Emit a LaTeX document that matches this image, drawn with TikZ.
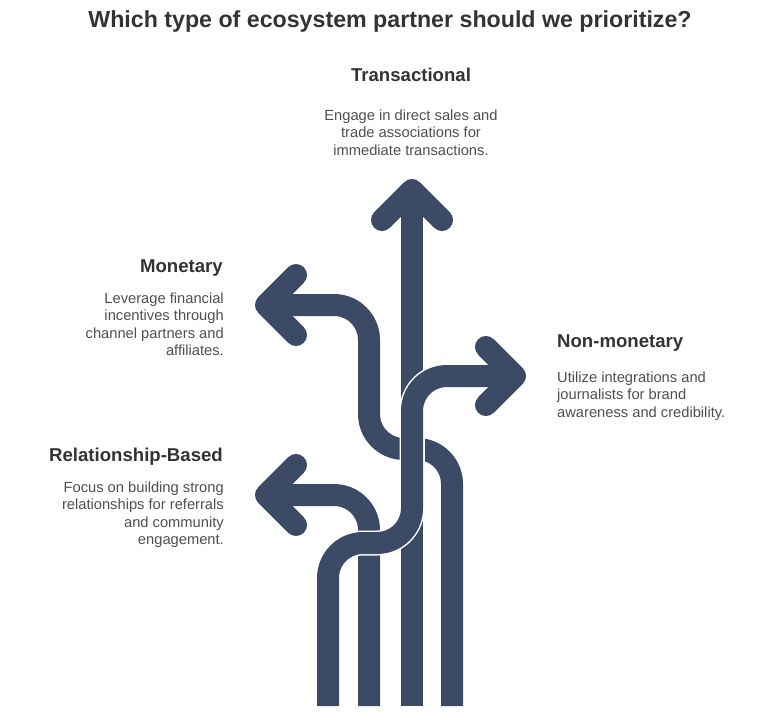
\documentclass[tikz,border=0pt]{standalone}
\usepackage{fontspec}
\setmainfont{Liberation Sans}
\definecolor{laneblue}{HTML}{3B4B66}
\definecolor{headgray}{HTML}{333333}
\definecolor{bodygray}{HTML}{4F4F4F}
\begin{document}
\begin{tikzpicture}
	[x=1pt,y=-1pt,
	lane/.style={line width=22pt,draw=laneblue,rounded corners=35pt,line join=round},
	laneedge/.style={line width=25pt,draw=white,rounded corners=35pt,line join=round},
	arrowhead/.style={line width=22pt,draw=laneblue,line cap=round,line join=round},
	titletxt/.style={font=\fontsize{23.2}{28}\selectfont\bfseries,text=headgray,inner sep=0pt,anchor=base},
	heading/.style={font=\fontsize{18.6}{22}\selectfont\bfseries,text=headgray,inner sep=0pt,anchor=base},
	blurb/.style={font=\fontsize{14.7}{17.5}\selectfont,text=bodygray,inner sep=0pt},]
	\useasboundingbox (0,0) rectangle (780,718);
	% texts
	\node[titletxt,name=title] at (390,27) {Which type of ecosystem partner should we prioritize?};
	\node[heading,name=trans-head] at (411,81) {Transactional};
	\node[blurb,align=center,anchor=north,name=trans-text] at (411,109.5)
	{Engage in direct sales and\\trade associations for\\immediate transactions.};
	\node[heading,anchor=base east,name=mon-head] at (223,272) {Monetary};
	\node[blurb,align=right,anchor=north east,name=mon-text] at (224,292.5)
	{Leverage financial\\incentives through\\channel partners and\\affiliates.};
	\node[heading,anchor=base west,name=nonmon-head] at (557,347) {Non-monetary};
	\node[blurb,align=left,anchor=north west,name=nonmon-text] at (557,371.5)
	{Utilize integrations and\\journalists for brand\\awareness and credibility.};
	\node[heading,anchor=base east,name=rel-head] at (223,461) {Relationship-Based};
	\node[blurb,align=right,anchor=north east,name=rel-text] at (224,481.5)
	{Focus on building strong\\relationships for referrals\\and community\\engagement.};
	% lane ends
	\coordinate (rel-start) at (369,706);
	\coordinate (rel-tip) at (266,495);
	\coordinate (mon-start) at (452,706);
	\coordinate (mon-tip) at (266,305);
	\coordinate (trans-start) at (412,706);
	\coordinate (trans-tip) at (412,190);
	\coordinate (nonmon-start) at (328,706);
	\coordinate (nonmon-tip) at (515,376);
	% lanes
	\foreach \s in {laneedge,lane}
	{
		\draw[\s] (rel-start) |- (rel-tip);
	}
	\foreach \s in {laneedge,lane}
	{
		\draw[\s] (mon-start) -- (452,449) -- (369,449) |- (mon-tip);
	}
	\foreach \s in {laneedge,lane}
	{
		\draw[\s] (trans-start) -- (trans-tip);
	}
	\foreach \s in {laneedge,lane}
	{
		\draw[\s] (nonmon-start) -- (328,543) -- (412,543) |- (nonmon-tip);
	}
	% heads
	\draw[arrowhead] ([shift={(30,-30)}]rel-tip) -- (rel-tip) -- ([shift={(30,30)}]rel-tip);
	\draw[arrowhead] ([shift={(30,-30)}]mon-tip) -- (mon-tip) -- ([shift={(30,30)}]mon-tip);
	\draw[arrowhead] ([shift={(-30,30)}]trans-tip) -- (trans-tip) -- ([shift={(30,30)}]trans-tip);
	\draw[arrowhead] ([shift={(-29,-29)}]nonmon-tip) -- (nonmon-tip) -- ([shift={(-29,29)}]nonmon-tip);
\end{tikzpicture}
\end{document}
